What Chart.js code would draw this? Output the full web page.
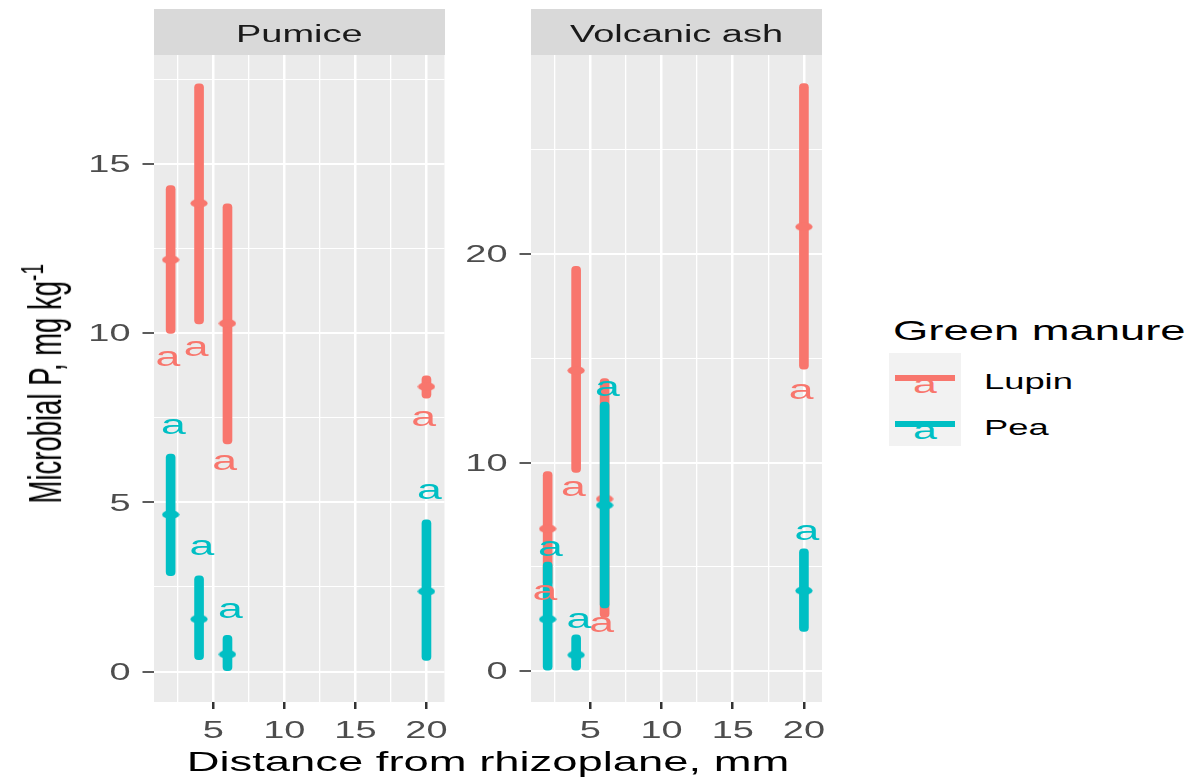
<!DOCTYPE html>
<html>
<head>
<meta charset="utf-8">
<script src="https://cdn.jsdelivr.net/npm/chart.js@4.4.1/dist/chart.umd.min.js"></script>
<style>
  body { margin: 0; background: #fff; }
  #page { position: relative; width: 1191px; height: 780px; overflow: hidden; font-family: "Liberation Sans", Arial, sans-serif; }
  canvas { position: absolute; top: 0; }
  .txt { position: absolute; white-space: nowrap; line-height: 1; }
  .wide { transform: scaleX(1.65); }
  .strip { position: absolute; top: 9px; height: 46px; background: #d9d9d9; }
  .strip span { position: absolute; left: 0; right: 0; top: 14px; text-align: center; font-size: 23px; line-height: 1; color: #1a1a1a; transform: scaleX(1.65); }
</style>
</head>
<body>
<div id="page">
  <canvas id="pumice" width="470" height="780" style="left:0"></canvas>
  <canvas id="ash" width="380" height="780" style="left:460px"></canvas>

  <div class="strip" style="left:154px; width:290.5px"><span>Pumice</span></div>
  <div class="strip" style="left:531px; width:291px"><span>Volcanic ash</span></div>

  <div class="txt" style="left:-104px; top:370px; width:300px; text-align:center; font-size:27.5px; transform: rotate(-90deg) scaleY(1.65);">Microbial P, mg kg<span style="font-size:19px; position:relative; top:-11px">-1</span></div>
  <div class="txt wide" style="left:188px; top:748px; width:600px; text-align:center; font-size:27.5px;">Distance from rhizoplane, mm</div>

  <div class="txt wide" style="left:893px; top:317px; font-size:27.5px; transform-origin:left;">Green manure</div>
  <div style="position:absolute; left:889px; top:353px; width:72px; height:93px; background:#f2f2f2;"></div>
  <div id="keys"></div>
</div>

<script>
// sampling distance from the rhizoplane, mm
const distance = [2, 4, 6, 20];
const manures = ['Lupin', 'Pea'];
const colours = ['#F8766D', '#00BFC4'];

// Pumice: mean and range of microbial P (mg/kg)
const pumiceLupinMean = [12.17, 13.84, 10.29, 8.42];
const pumiceLupinLow  = [9.99, 10.27, 6.73, 8.08];
const pumiceLupinHigh = [14.36, 17.37, 13.82, 8.74];
const pumicePeaMean = [4.64, 1.55, 0.51, 2.37];
const pumicePeaLow  = [2.83, 0.35, 0.0, 0.33];
const pumicePeaHigh = [6.43, 2.83, 1.07, 4.48];

// Volcanic ash
const ashLupinMean = [6.83, 14.42, 8.26, 21.31];
const ashLupinLow  = [4.09, 9.53, 2.58, 14.48];
const ashLupinHigh = [9.57, 19.41, 14.03, 28.18];
const ashPeaMean = [2.49, 0.78, 7.96, 3.86];
const ashPeaLow  = [0.0, 0.0, 3.03, 1.90];
const ashPeaHigh = [5.23, 1.74, 12.90, 5.87];

// significance letters and where they sit
const pumiceLupinLetters = ['a', 'a', 'a', 'a'];
const pumiceLupinLetterY = [9.24, 9.54, 6.17, 7.46];
const pumicePeaLetters = ['a', 'a', 'a', 'a'];
const pumicePeaLetterY = [7.23, 3.64, 1.80, 5.30];
const ashLupinLetters = ['a', 'a', 'a', 'a'];
const ashLupinLetterY = [3.76, 8.75, 2.19, 13.40];
const ashPeaLetters = ['a', 'a', 'a', 'a'];
const ashPeaLetterY = [5.85, 2.39, 13.54, 6.63];

// axis breaks
const xBreaks = [5, 10, 15, 20];
const xMinorBreaks = [2.5, 7.5, 12.5, 17.5];
const pumiceBreaks = [0, 5, 10, 15];
const pumiceMinorBreaks = [2.5, 7.5, 12.5, 17.5];
const ashBreaks = [0, 10, 20];
const ashMinorBreaks = [5, 15, 25];

const SX = 1.65; // lettering is drawn wide

function wideText(ctx, text, x, y, align) {
  ctx.save();
  ctx.translate(x, y);
  ctx.scale(SX, 1);
  ctx.textAlign = align;
  ctx.fillText(text, 0, 0);
  ctx.restore();
}

// wide oval used for the mean points
function meanMarker(colour) {
  const c = document.createElement('canvas');
  c.width = 18;
  c.height = 9;
  const g = c.getContext('2d');
  g.fillStyle = colour;
  g.beginPath();
  g.ellipse(9, 4.5, 8.6, 4.3, 0, 0, 2 * Math.PI);
  g.fill();
  return c;
}

const panelDecor = {
  id: 'panelDecor',
  beforeDraw(chart) {
    const a = chart.chartArea, ctx = chart.ctx;
    ctx.save();
    ctx.fillStyle = '#ebebeb';
    ctx.fillRect(a.left, a.top, a.right - a.left, a.bottom - a.top);
    ctx.restore();
  },
  afterDraw(chart, args, o) {
    const ctx = chart.ctx, x = chart.scales.x, y = chart.scales.y;
    ctx.save();
    ctx.textBaseline = 'alphabetic';
    ctx.font = '23px "Liberation Sans"';
    ctx.fillStyle = '#4d4d4d';
    o.yBreaks.forEach(v => wideText(ctx, String(v), y.right - 23.5, y.getPixelForValue(v) + 8.2, 'right'));
    xBreaks.forEach(v => wideText(ctx, String(v), x.getPixelForValue(v), x.top + 36, 'center'));

    ctx.font = '27px "Liberation Sans"';
    o.letters.forEach(g => {
      ctx.fillStyle = g.colour;
      distance.forEach((d, i) => {
        wideText(ctx, g.text[i], x.getPixelForValue(d + g.shift), y.getPixelForValue(g.at[i]) + 7, 'center');
      });
    });
    ctx.restore();
  }
};

const toRange = (lo, hi) => distance.map((d, i) => ({x: d, y: [lo[i], hi[i]]}));
const toPoints = (m) => distance.map((d, i) => ({x: d, y: m[i]}));
const inList = (list, v) => list.some(b => Math.abs(b - v) < 1e-6);

function rangeSet(label, colour, lo, hi) {
  return {
    type: 'bar', label: label, data: toRange(lo, hi),
    backgroundColor: colour, barThickness: 9, grouped: false,
    borderRadius: 4, borderSkipped: false
  };
}
function meanSet(label, colour, m) {
  return {
    type: 'scatter', label: label, data: toPoints(m),
    pointStyle: meanMarker(colour), pointRadius: 5
  };
}

function makePanel(id, p) {
  return new Chart(document.getElementById(id), {
    type: 'bar',
    data: {
      // first dataset ends up on top
      datasets: [
        meanSet(manures[1], colours[1], p.peaMean),
        rangeSet(manures[1], colours[1], p.peaLow, p.peaHigh),
        meanSet(manures[0], colours[0], p.lupinMean),
        rangeSet(manures[0], colours[0], p.lupinLow, p.lupinHigh)
      ]
    },
    options: {
      responsive: false,
      animation: false,
      events: [],
      layout: { padding: { left: 0, top: 55, right: p.padRight, bottom: 78 } },
      plugins: {
        legend: { display: false },
        tooltip: { enabled: false },
        panelDecor: { yBreaks: p.breaks, letters: p.letters }
      },
      scales: {
        x: {
          type: 'linear', min: 0.83, max: 21.27, offset: false, bounds: 'data',
          afterBuildTicks: s => { s.ticks = xMinorBreaks.concat(xBreaks).map(v => ({value: v})); },
          afterFit: s => { s.height = 0; },
          ticks: { display: false },
          border: { display: false },
          grid: {
            offset: false,
            color: '#ffffff',
            lineWidth: c => inList(xBreaks, c.tick.value) ? 2.5 : 1.3,
            tickLength: 7, tickWidth: 2.5,
            tickColor: c => inList(xBreaks, c.tick.value) ? '#333333' : 'rgba(0,0,0,0)'
          }
        },
        y: {
          type: 'linear', min: p.yMin, max: p.yMax, bounds: 'data',
          afterBuildTicks: s => { s.ticks = p.minor.concat(p.breaks).map(v => ({value: v})); },
          afterFit: s => { s.width = p.axisWidth; },
          ticks: { display: false },
          border: { display: false },
          grid: {
            color: '#ffffff',
            lineWidth: c => inList(p.breaks, c.tick.value) ? 2 : 1,
            tickLength: 11.5, tickWidth: 1.6,
            tickColor: c => inList(p.breaks, c.tick.value) ? '#333333' : 'rgba(0,0,0,0)'
          }
        }
      }
    },
    plugins: [panelDecor]
  });
}

makePanel('pumice', {
  yMin: -0.9, yMax: 18.22, axisWidth: 154, padRight: 25.5,
  breaks: pumiceBreaks, minor: pumiceMinorBreaks,
  lupinMean: pumiceLupinMean, lupinLow: pumiceLupinLow, lupinHigh: pumiceLupinHigh,
  peaMean: pumicePeaMean, peaLow: pumicePeaLow, peaHigh: pumicePeaHigh,
  letters: [
    { text: pumiceLupinLetters, at: pumiceLupinLetterY, colour: colours[0], shift: -0.2 },
    { text: pumicePeaLetters, at: pumicePeaLetterY, colour: colours[1], shift: 0.2 }
  ]
});

makePanel('ash', {
  yMin: -1.48, yMax: 29.55, axisWidth: 71, padRight: 18,
  breaks: ashBreaks, minor: ashMinorBreaks,
  lupinMean: ashLupinMean, lupinLow: ashLupinLow, lupinHigh: ashLupinHigh,
  peaMean: ashPeaMean, peaLow: ashPeaLow, peaHigh: ashPeaHigh,
  letters: [
    { text: ashLupinLetters, at: ashLupinLetterY, colour: colours[0], shift: -0.2 },
    { text: ashPeaLetters, at: ashPeaLetterY, colour: colours[1], shift: 0.2 }
  ]
});

// legend keys: a line with the letter glyph under it
const keys = document.getElementById('keys');
manures.forEach((name, i) => {
  const cy = 378 + i * 46;
  keys.insertAdjacentHTML('beforeend',
    '<div class="txt" style="left:875px; top:' + (cy - 7.5) + 'px; width:100px; text-align:center; font-size:26px; color:' + colours[i] + '; transform:scaleX(1.65);">a</div>' +
    '<div style="position:absolute; left:895px; top:' + (cy - 3) + 'px; width:60px; height:6px; background:' + colours[i] + ';"></div>' +
    '<div class="txt wide" style="left:984px; top:' + (cy + 4 - 10.8) + 'px; font-size:22px; transform-origin:left;">' + name + '</div>');
});
</script>
</body>
</html>
